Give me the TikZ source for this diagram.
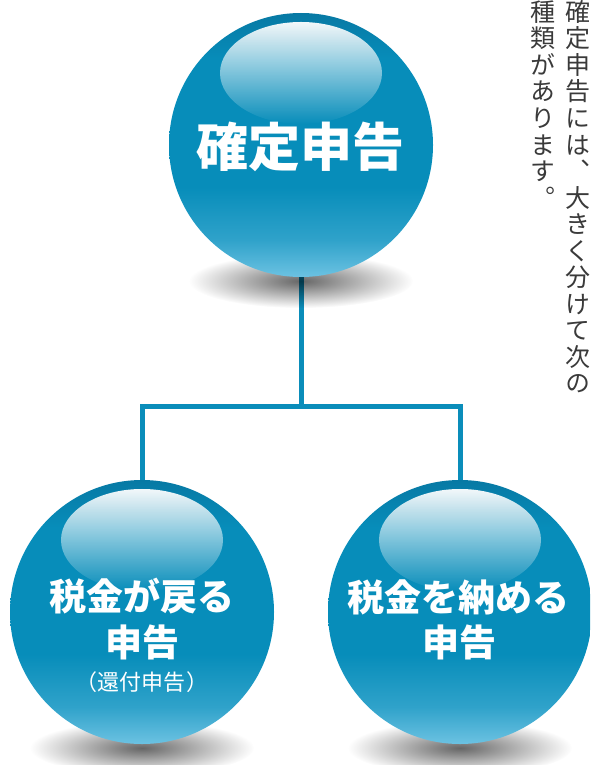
\documentclass[tikz,border=0pt]{standalone}
\usepackage{fontspec}
\setmainfont{Noto Sans CJK JP}
\usetikzlibrary{fadings}
\definecolor{cMain}{HTML}{078DBA}
\definecolor{cDark}{HTML}{0779A4}
\definecolor{cLight}{HTML}{6CC2E2}
\definecolor{cLine}{HTML}{0A8DBA}
\definecolor{cText}{HTML}{3A3A3A}
\pgfdeclareverticalshading{orbshade}{100bp}{color(0bp)=(cLight); color(25bp)=(cLight); color(32bp)=(cMain!60!cLight); color(42bp)=(cMain); color(66bp)=(cMain); color(75bp)=(cDark); color(100bp)=(cDark)}
\tikzfading[name=hlfade, top color=transparent!5, middle color=transparent!100, bottom color=transparent!100]
\tikzfading[name=shfade, inner color=transparent!40, outer color=transparent!100]
\begin{document}
\begin{tikzpicture}[x=1pt,y=-1pt,
  orb/.style={circle, minimum size=264pt, inner sep=0pt, shade, shading=orbshade},
  conn/.style={draw=cLine, line width=5pt},
  lbl/.style={text=white, inner sep=0pt},
  bigl/.style={lbl, font=\bfseries\fontsize{52}{52}\selectfont},
  midl/.style={lbl, font=\bfseries\fontsize{37}{37}\selectfont},
  smll/.style={lbl, font=\fontsize{22}{22}\selectfont},
  vch/.style={text=cText, inner sep=0pt, text height=22pt, text depth=3pt,
    font=\fontsize{25}{25}\selectfont\addfontfeature{RawFeature=+vert}},
  hl/.style={white, path fading=hlfade},
  shd/.style={black, path fading=shfade}]
\useasboundingbox (0,0) rectangle (590,765);
\clip (0,0) rectangle (590,765);

\coordinate (topc) at (301,145);
\coordinate (leftc) at (142,612);
\coordinate (rightc) at (460,612);
\coordinate (bus) at (301,406);

% invisible geometry nodes for connector ends
\node[circle, minimum size=264pt, inner sep=0pt] (topg) at (topc) {};
\node[circle, minimum size=264pt, inner sep=0pt] (leftg) at (leftc) {};
\node[circle, minimum size=264pt, inner sep=0pt] (rightg) at (rightc) {};

% connectors
\draw[conn] (topg.south) -- (bus);
\draw[conn] (leftg.north) |- (bus) -| (rightg.north);

% shadows
\fill[shd] ([yshift=-136pt]topc) ellipse [x radius=112pt, y radius=27pt];
\fill[shd] ([yshift=-136pt]leftc) ellipse [x radius=112pt, y radius=27pt];
\fill[shd] ([yshift=-136pt]rightc) ellipse [x radius=112pt, y radius=27pt];

% circles
\node[orb] (top) at (topc) {};
\node[orb] (left) at (leftc) {};
\node[orb] (right) at (rightc) {};

% highlights
\fill[hl] ([yshift=72pt]top.center) ellipse [x radius=81pt, y radius=51pt];
\fill[hl] ([yshift=72pt]left.center) ellipse [x radius=81pt, y radius=51pt];
\fill[hl] ([yshift=72pt]right.center) ellipse [x radius=81pt, y radius=51pt];

% labels
\node[bigl] (tt) at (300,147) {確定申告};
\node[midl] (la) at (142,596) {税金が戻る};
\node[midl] (lb) at (142,642) {申告};
\node[smll] (lc) at (142,682) {（\kern1pt 還付申告\kern1pt）};
\node[midl] (ra) at (458,597) {税金を納める};
\node[midl] (rb) at (459,642) {申告};

% vertical text
\foreach \i/\c in {0/確,1/定,2/申,3/告,4/に,5/は,6/、,7/大,8/き,9/く,10/分,11/け,12/て,13/次,14/の}
  \node[vch] (vr\i) at (577.5,{12+26.5*\i}) {\c};
\foreach \i/\c in {0/種,1/類,2/が,3/あ,4/り,5/ま,6/す,7/。}
  \node[vch] (vl\i) at (543,{12+26.5*\i}) {\c};
\end{tikzpicture}
\end{document}
